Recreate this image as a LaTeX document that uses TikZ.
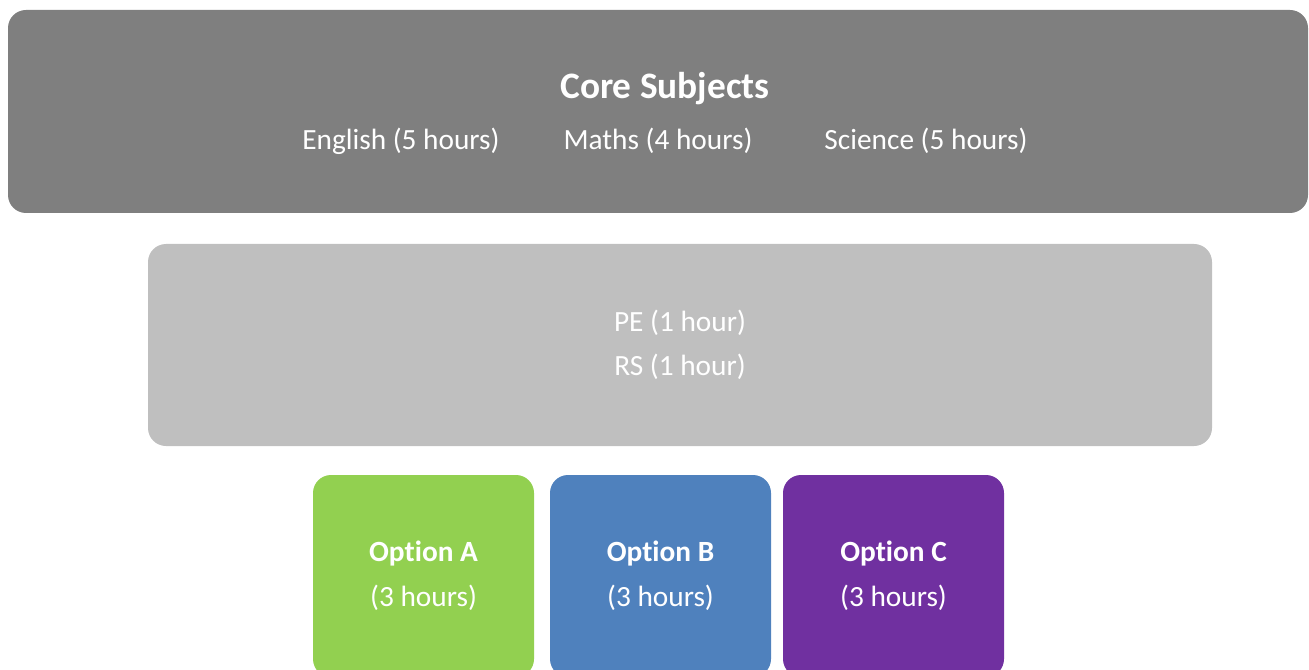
\documentclass[tikz,border=0pt]{standalone}
\usepackage{fontspec}
\setmainfont[Ligatures=NoCommon]{Carlito}
\usetikzlibrary{positioning}
\definecolor{coregray}{HTML}{7F7F7F}
\definecolor{extragray}{HTML}{BFBFBF}
\definecolor{optgreen}{HTML}{92D050}
\definecolor{optblue}{HTML}{4F81BD}
\definecolor{optpurple}{HTML}{7030A0}
\tikzset{
  panel/.style={rounded corners=13.5pt, inner sep=0pt, draw=none},
  label/.style={text=white, inner sep=0pt, font=\fontsize{22}{26}\selectfont},
  optbox/.style={panel, minimum width=165.75pt, minimum height=151.5pt,
    text=white, align=center, font=\fontsize{22}{33.75}\selectfont}
}
\begin{document}
\begin{tikzpicture}[x=0.75pt,y=-0.75pt]
    \useasboundingbox (0,0) rectangle (1309,670);
    % core subjects
    \node[panel, fill=coregray, minimum width=975pt, minimum height=152.25pt] (core) at (658,111.5) {};
    \node[label, font=\fontsize{28}{32}\selectfont\bfseries] (coretitle) at (665,89) {Core Subjects};
    \node[label] (english) at (401,141) {English (5 hours)};
    \node[label] (maths) at (658,141) {Maths (4 hours)};
    \node[label] (science) at (926,141) {Science (5 hours)};
    % other subjects
    \node[panel, fill=extragray, minimum width=798pt, minimum height=151.5pt,
      text=white, align=center, font=\fontsize{22}{33}\selectfont] (extra) at (680,345)
      {PE (1 hour)\\RS (1 hour)};
    % options
    \node[optbox, fill=optgreen] (optA) at (423.5,576) {\textbf{Option A}\\(3 hours)};
    \node[optbox, fill=optblue] (optB) at (660.5,576) {\textbf{Option B}\\(3 hours)};
    \node[optbox, fill=optpurple] (optC) at (893.5,576) {\textbf{Option C}\\(3 hours)};
\end{tikzpicture}
\end{document}
